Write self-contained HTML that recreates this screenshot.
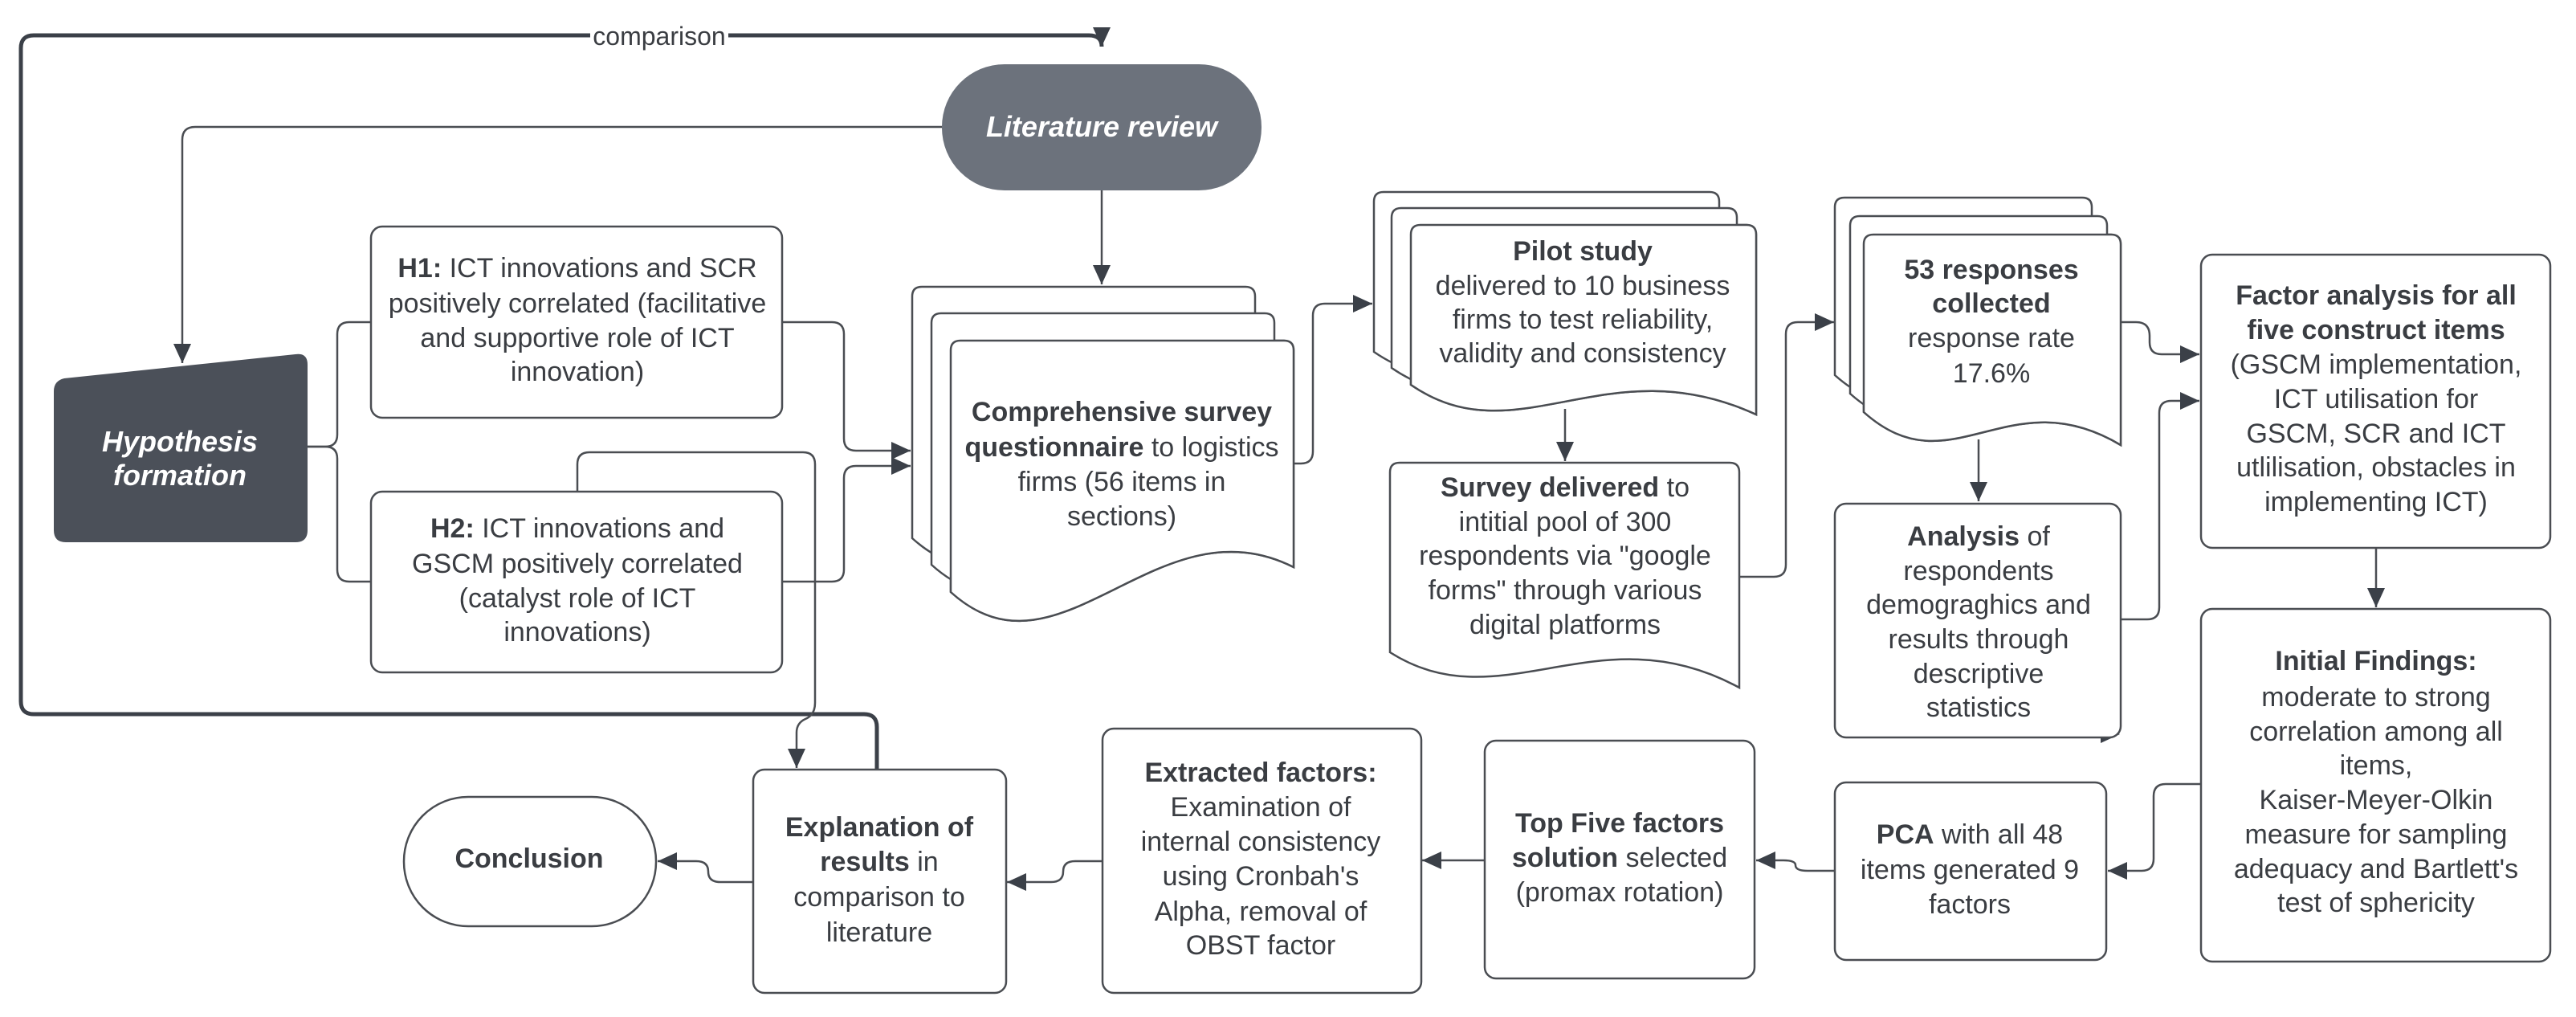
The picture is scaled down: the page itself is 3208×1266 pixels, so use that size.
<!DOCTYPE html>
<html><head><meta charset="utf-8"><style>
html,body{margin:0;padding:0;background:#fff;}
svg{display:block;}
text{font-family:"Liberation Sans",Arial,sans-serif;font-size:34px;fill:#3a3d42;}
.b{font-weight:bold;}
</style></head><body>
<svg width="3208" height="1266" viewBox="0 0 3208 1266" xmlns="http://www.w3.org/2000/svg">
<defs>
<marker id="ar" markerUnits="userSpaceOnUse" markerWidth="26" markerHeight="22" refX="24" refY="11" orient="auto">
<path d="M0,0 L24,11 L0,22 Z" fill="#3b4048"/>
</marker>
</defs>
<g fill="none" stroke="#4a4d52" stroke-width="2.5">
<!-- comparison thick loop -->
<path d="M1092,958 L1092,905 Q1092,889 1076,889 L42,889 Q26,889 26,873 L26,60 Q26,44 42,44 L1356,44 Q1372,44 1372,58" stroke="#3b4048" stroke-width="5" marker-end="url(#ar)"/>
<path d="M1173,158 L243,158 Q227,158 227,174 L227,452" marker-end="url(#ar)"/>
<path d="M1372,237 L1372,354" marker-end="url(#ar)"/>
<path d="M383,556 L405,556 Q420,556 420,541 L420,416 Q420,401 435,401 L462,401"/>
<path d="M383,556 L405,556 Q420,556 420,571 L420,709 Q420,724 435,724 L462,724"/>
<path d="M974,401 L1036,401 Q1051,401 1051,416 L1051,546 Q1051,561 1066,561 L1134,561" marker-end="url(#ar)"/>
<path d="M974,724 L1036,724 Q1051,724 1051,709 L1051,595 Q1051,580 1066,580 L1134,580" marker-end="url(#ar)"/>
<path d="M719,612 L719,578 Q719,563 734,563 L1000,563 Q1015,563 1015,578 L1015,875 Q1015,890 1003,895 Q992,900 992,912 L992,956" marker-end="url(#ar)"/>
<path d="M1611,577 L1620,577 Q1635,577 1635,562 L1635,393 Q1635,378 1650,378 L1709,378" marker-end="url(#ar)"/>
<path d="M1949,509 L1949,574" marker-end="url(#ar)"/>
<path d="M2166,718 L2209,718 Q2224,718 2224,703 L2224,416 Q2224,401 2239,401 L2284,401" marker-end="url(#ar)"/>
<path d="M2464,547 L2464,624" marker-end="url(#ar)"/>
<path d="M2641,401 L2660,401 Q2677,401 2677,418 L2677,426 Q2677,441 2692,441 L2739,441" marker-end="url(#ar)"/>
<path d="M2641,771 L2674,771 Q2689,771 2689,756 L2689,514 Q2689,499 2704,499 L2739,499" marker-end="url(#ar)"/>
<path d="M2959,682 L2959,756" marker-end="url(#ar)"/>
<path d="M2741,976 L2697,976 Q2682,976 2682,991 L2682,1069 Q2682,1084 2667,1084 L2625,1084" marker-end="url(#ar)"/>
<path d="M2285,1084 L2251,1084 Q2236,1084 2236,1077 Q2236,1071 2221,1071 L2187,1071" marker-end="url(#ar)"/>
<path d="M1849,1071 L1771,1071" marker-end="url(#ar)"/>
<path d="M1373,1072 L1339,1072 Q1324,1072 1324,1085 Q1324,1098 1309,1098 L1254,1098" marker-end="url(#ar)"/>
<path d="M938,1098 L897,1098 Q882,1098 882,1085 Q882,1072 867,1072 L819,1072" marker-end="url(#ar)"/>
</g>
<path d="M2616,903 L2640,914 L2616,925 Z" fill="#3b4048"/>
<!-- comparison label -->
<rect x="735" y="26" width="172" height="36" fill="#fff"/>
<text x="821" y="56" text-anchor="middle" style="font-size:32px">comparison</text>

<!-- Literature review -->
<rect x="1173" y="80" width="398" height="157" rx="78" fill="#6c727c"/>
<text x="1372" y="170" text-anchor="middle" class="b" style="fill:#fff;font-style:italic;font-size:36px">Literature review</text>

<!-- Hypothesis -->
<path d="M67,487 Q67,474 80,471 L368,441 Q383,439 383,454 L383,660 Q383,675 368,675 L82,675 Q67,675 67,660 Z" fill="#4b5059"/>
<text x="224" y="562" text-anchor="middle" class="b" style="fill:#fff;font-style:italic;font-size:36px">Hypothesis</text>
<text x="224" y="604" text-anchor="middle" class="b" style="fill:#fff;font-style:italic;font-size:36px">formation</text>

<g fill="#fff" stroke="#4a4d52" stroke-width="2.5">
<rect x="462" y="282" width="512" height="238" rx="14"/>
<rect x="462" y="612" width="512" height="225" rx="14"/>
<!-- survey questionnaire stack -->
<g id="sq">
<path d="M1184,737 L1184,436 Q1184,424 1196,424 L1599,424 Q1611,424 1611,436 L1611,706 C1440,620 1320,860 1184,737 Z"/>
</g>
<!-- pilot -->
<path d="M1757,479 L1757,292 Q1757,280 1769,280 L2175,280 Q2187,280 2187,292 L2187,516 C2000,430 1890,570 1757,479 Z"/>
<path d="M1731,812 L1731,588 Q1731,576 1743,576 L2154,576 Q2166,576 2166,588 L2166,856 C1990,760 1870,900 1731,812 Z"/>
<!-- 53 -->
<path d="M2321,513 L2321,304 Q2321,292 2333,292 L2629,292 Q2641,292 2641,304 L2641,554 C2500,470 2430,610 2321,513 Z"/>
<rect x="2285" y="627" width="356" height="291" rx="14"/>
<rect x="2741" y="317" width="435" height="365" rx="14"/>
<rect x="2741" y="758" width="435" height="439" rx="14"/>
<rect x="2285" y="974" width="338" height="221" rx="14"/>
<rect x="1849" y="922" width="336" height="296" rx="14"/>
<rect x="1373" y="907" width="397" height="329" rx="14"/>
<rect x="938" y="958" width="315" height="278" rx="14"/>
<rect x="503" y="992" width="314" height="161" rx="80" ry="80"/>
</g>
<!-- back sheets drawn then front redrawn on top -->
<g fill="#fff" stroke="#4a4d52" stroke-width="2.5">
<path transform="translate(-48,-67)" d="M1184,737 L1184,436 Q1184,424 1196,424 L1599,424 Q1611,424 1611,436 L1611,706 C1440,620 1320,860 1184,737 Z"/>
<path transform="translate(-24,-34)" d="M1184,737 L1184,436 Q1184,424 1196,424 L1599,424 Q1611,424 1611,436 L1611,706 C1440,620 1320,860 1184,737 Z"/>
<path d="M1184,737 L1184,436 Q1184,424 1196,424 L1599,424 Q1611,424 1611,436 L1611,706 C1440,620 1320,860 1184,737 Z"/>
<path transform="translate(-46,-41)" d="M1757,479 L1757,292 Q1757,280 1769,280 L2175,280 Q2187,280 2187,292 L2187,516 C2000,430 1890,570 1757,479 Z"/>
<path transform="translate(-24,-21)" d="M1757,479 L1757,292 Q1757,280 1769,280 L2175,280 Q2187,280 2187,292 L2187,516 C2000,430 1890,570 1757,479 Z"/>
<path d="M1757,479 L1757,292 Q1757,280 1769,280 L2175,280 Q2187,280 2187,292 L2187,516 C2000,430 1890,570 1757,479 Z"/>
<path transform="translate(-36,-46)" d="M2321,513 L2321,304 Q2321,292 2333,292 L2629,292 Q2641,292 2641,304 L2641,554 C2500,470 2430,610 2321,513 Z"/>
<path transform="translate(-17,-23)" d="M2321,513 L2321,304 Q2321,292 2333,292 L2629,292 Q2641,292 2641,304 L2641,554 C2500,470 2430,610 2321,513 Z"/>
<path d="M2321,513 L2321,304 Q2321,292 2333,292 L2629,292 Q2641,292 2641,304 L2641,554 C2500,470 2430,610 2321,513 Z"/>
</g>

<g text-anchor="middle">
<text x="719" y="345"><tspan class="b">H1:</tspan> ICT innovations and SCR</text>
<text x="719" y="389">positively correlated (facilitative</text>
<text x="719" y="432">and supportive role of ICT</text>
<text x="719" y="474">innovation)</text>

<text x="719" y="669"><tspan class="b">H2:</tspan> ICT innovations and</text>
<text x="719" y="713">GSCM positively correlated</text>
<text x="719" y="756">(catalyst role of ICT</text>
<text x="719" y="798">innovations)</text>

<text x="1397" y="524" class="b">Comprehensive survey</text>
<text x="1397" y="568"><tspan class="b">questionnaire</tspan> to logistics</text>
<text x="1397" y="611">firms (56 items in</text>
<text x="1397" y="654">sections)</text>

<text x="1971" y="324" class="b">Pilot study</text>
<text x="1971" y="367">delivered to 10 business</text>
<text x="1971" y="409">firms to test reliability,</text>
<text x="1971" y="451">validity and consistency</text>

<text x="1949" y="618"><tspan class="b">Survey delivered</tspan> to</text>
<text x="1949" y="661">intitial pool of 300</text>
<text x="1949" y="703">respondents via "google</text>
<text x="1949" y="746">forms" through various</text>
<text x="1949" y="789">digital platforms</text>

<text x="2480" y="347" class="b">53 responses</text>
<text x="2480" y="389" class="b">collected</text>
<text x="2480" y="432">response rate</text>
<text x="2480" y="476">17.6%</text>

<text x="2464" y="679"><tspan class="b">Analysis</tspan> of</text>
<text x="2464" y="722">respondents</text>
<text x="2464" y="764">demograghics and</text>
<text x="2464" y="807">results through</text>
<text x="2464" y="850">descriptive</text>
<text x="2464" y="892">statistics</text>

<text x="2959" y="379" class="b">Factor analysis for all</text>
<text x="2959" y="422" class="b">five construct items</text>
<text x="2959" y="465">(GSCM implementation,</text>
<text x="2959" y="508">ICT utilisation for</text>
<text x="2959" y="551">GSCM, SCR and ICT</text>
<text x="2959" y="593">utlilisation, obstacles in</text>
<text x="2959" y="636">implementing ICT)</text>

<text x="2959" y="834" class="b">Initial Findings:</text>
<text x="2959" y="879">moderate to strong</text>
<text x="2959" y="922">correlation among all</text>
<text x="2959" y="964">items,</text>
<text x="2959" y="1007">Kaiser-Meyer-Olkin</text>
<text x="2959" y="1050">measure for sampling</text>
<text x="2959" y="1093">adequacy and Bartlett's</text>
<text x="2959" y="1135">test of sphericity</text>

<text x="2453" y="1050"><tspan class="b">PCA</tspan> with all 48</text>
<text x="2453" y="1094">items generated 9</text>
<text x="2453" y="1137">factors</text>

<text x="2017" y="1036" class="b">Top Five factors</text>
<text x="2017" y="1079"><tspan class="b">solution</tspan> selected</text>
<text x="2017" y="1122">(promax rotation)</text>

<text x="1570" y="973" class="b">Extracted factors:</text>
<text x="1570" y="1016">Examination of</text>
<text x="1570" y="1059">internal consistency</text>
<text x="1570" y="1102">using Cronbah's</text>
<text x="1570" y="1146">Alpha, removal of</text>
<text x="1570" y="1188">OBST factor</text>

<text x="1095" y="1041" class="b">Explanation of</text>
<text x="1095" y="1084"><tspan class="b">results</tspan> in</text>
<text x="1095" y="1128">comparison to</text>
<text x="1095" y="1172">literature</text>

<text x="659" y="1080" class="b">Conclusion</text>
</g>
</svg>
</body></html>
